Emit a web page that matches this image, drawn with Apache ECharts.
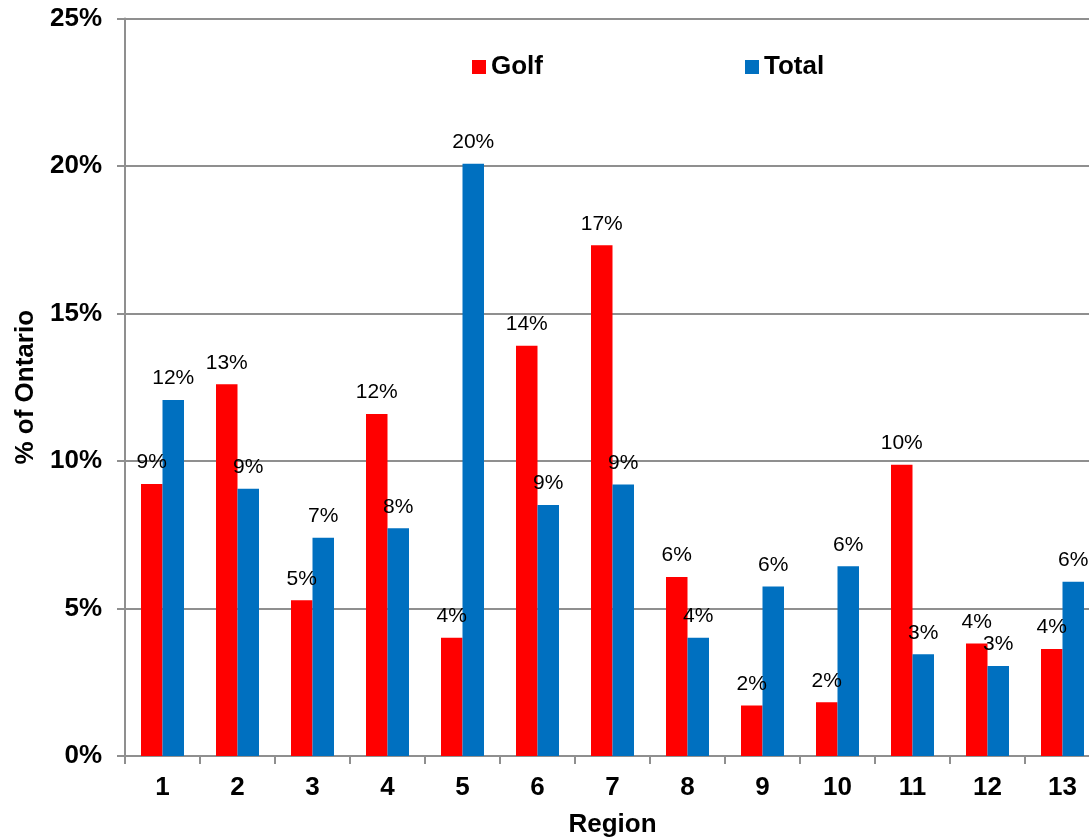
<!DOCTYPE html>
<html>
<head>
<meta charset="utf-8">
<script src="https://cdn.jsdelivr.net/npm/echarts@6/dist/echarts.min.js"></script>
<style>
html,body{margin:0;padding:0;background:#fff;}
#chart{width:1089px;height:838px;}
</style>
</head>
<body>
<div id="chart"></div>
<script>
const regions = ['1','2','3','4','5','6','7','8','9','10','11','12','13'];
const golf  = [9.22, 12.6, 5.28, 11.59, 4.01, 13.91, 17.31, 6.07, 1.71, 1.82, 9.87, 3.81, 3.63];
const total = [12.07, 9.06, 7.4, 7.72, 20.08, 8.51, 9.2, 4.01, 5.75, 6.43, 3.45, 3.05, 5.91];
const yTicks = [0, 5, 10, 15, 20, 25];

const FONT = "'Liberation Sans', Arial, sans-serif";
const GRID = '#8f8f8f';

const chart = echarts.init(document.getElementById('chart'), null, {renderer: 'canvas'});

const valueLabel = {
  show: true,
  position: 'top',
  distance: 11,
  color: '#000',
  fontFamily: FONT,
  fontSize: 21,
  formatter: p => Math.round(p.value) + '%'
};

chart.setOption({
  animation: false,
  backgroundColor: '#fff',
  textStyle: {fontFamily: FONT},
  legend: {
    left: 467,
    top: 49,
    icon: 'rect',
    itemWidth: 14,
    itemHeight: 14,
    itemGap: 202,
    textStyle: {fontFamily: FONT, fontSize: 26, fontWeight: 'bold', color: '#000'},
    data: ['Golf', 'Total']
  },
  grid: {left: 125, top: 18.5, width: 975, height: 737.5, containLabel: false, outerBoundsMode: 'none'},
  xAxis: {
    type: 'category',
    data: regions,
    name: 'Region',
    nameLocation: 'middle',
    nameGap: 56,
    nameTextStyle: {fontFamily: FONT, fontSize: 26, fontWeight: 'bold', color: '#000'},
    axisLine: {lineStyle: {color: GRID, width: 2}},
    axisTick: {show: true, length: 8, lineStyle: {color: GRID, width: 2}},
    axisLabel: {margin: 19, fontFamily: FONT, fontSize: 26, fontWeight: 'bold', color: '#000'},
    splitLine: {show: false}
  },
  yAxis: {
    type: 'value',
    min: yTicks[0],
    max: yTicks[yTicks.length - 1],
    interval: yTicks[1] - yTicks[0],
    name: '% of Ontario',
    nameLocation: 'middle',
    nameRotate: 90,
    nameGap: 85,
    nameTextStyle: {fontFamily: FONT, fontSize: 26, fontWeight: 'bold', color: '#000'},
    axisLine: {show: true, lineStyle: {color: GRID, width: 2}},
    axisTick: {show: true, length: 8, lineStyle: {color: GRID, width: 2}},
    axisLabel: {margin: 23, fontFamily: FONT, fontSize: 26, fontWeight: 'bold', color: '#000', formatter: '{value}%'},
    splitLine: {show: true, lineStyle: {color: GRID, width: 2}}
  },
  series: [
    {
      name: 'Golf',
      type: 'bar',
      data: golf,
      barWidth: 21.5,
      barGap: '0%',
      itemStyle: {color: '#FF0000'},
      label: valueLabel
    },
    {
      name: 'Total',
      type: 'bar',
      data: total,
      barWidth: 21.5,
      barGap: '0%',
      itemStyle: {color: '#0070C0'},
      label: valueLabel
    }
  ]
});
</script>
</body>
</html>
